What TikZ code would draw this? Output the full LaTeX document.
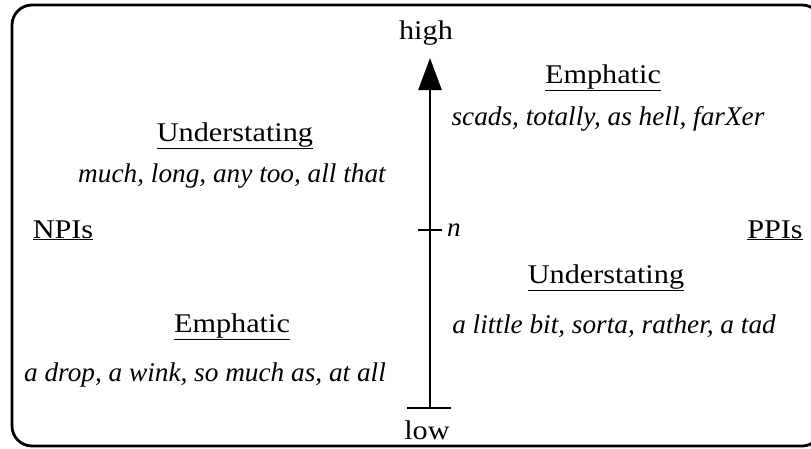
\documentclass[tikz,border=0pt]{standalone}
\usepackage{fontspec}
\setmainfont{Liberation Serif}[UprightFeatures={FakeStretch=1.12},ItalicFeatures={FakeStretch=1.01}]
\usetikzlibrary{arrows.meta}
\begin{document}
\begin{tikzpicture}[x=1pt,y=-1pt,
  lbl/.style={inner sep=0pt,anchor=base,font=\fontsize{27}{32}\selectfont},
  ex/.style={inner sep=0pt,anchor=base,font=\fontsize{27}{32}\selectfont\itshape},
  thick line/.style={line width=2.7pt}]
\useasboundingbox (0,0) rectangle (811,448);
\begin{scope}
\clip (0,0) rectangle (811,448);
\draw[line width=2.8pt,rounded corners=20pt] (12,5) rectangle (822,446);
\end{scope}
\coordinate (bot) at (430,408);
\coordinate (top) at (430,58);
\coordinate (bl) at (407,408);
\coordinate (br) at (451,408);
\coordinate (tl) at (418,230);
\coordinate (tr) at (442,230);
\draw[thick line,-{Triangle[length=32pt,width=23pt]}] (bot) -- (top);
\draw[thick line] (bl) -- (br);
\draw[thick line] (tl) -- (tr);
\node[lbl] (high) at (426,39) {high};
\node[lbl] (low) at (427,439) {low};
\node[ex,anchor=base west] (n) at (447,236) {n};
\node[lbl] (emR) at (603,83) {\underline{Emphatic}};
\node[ex] (emRx) at (608,125) {scads, totally, as hell, farXer};
\node[lbl] (unL) at (235,141) {\underline{Understating}};
\node[ex] (unLx) at (232,182) {much, long, any too, all that};
\node[lbl] (npi) at (63,238) {\underline{NPIs}};
\node[lbl] (ppi) at (775,238) {\underline{PPIs}};
\node[lbl] (unR) at (606,283) {\underline{Understating}};
\node[ex] (unRx) at (614,333) {a little bit, sorta, rather, a tad};
\node[lbl] (emL) at (232,332) {\underline{Emphatic}};
\node[ex] (emLx) at (205,381) {a drop, a wink, so much as, at all};
\end{tikzpicture}
\end{document}
